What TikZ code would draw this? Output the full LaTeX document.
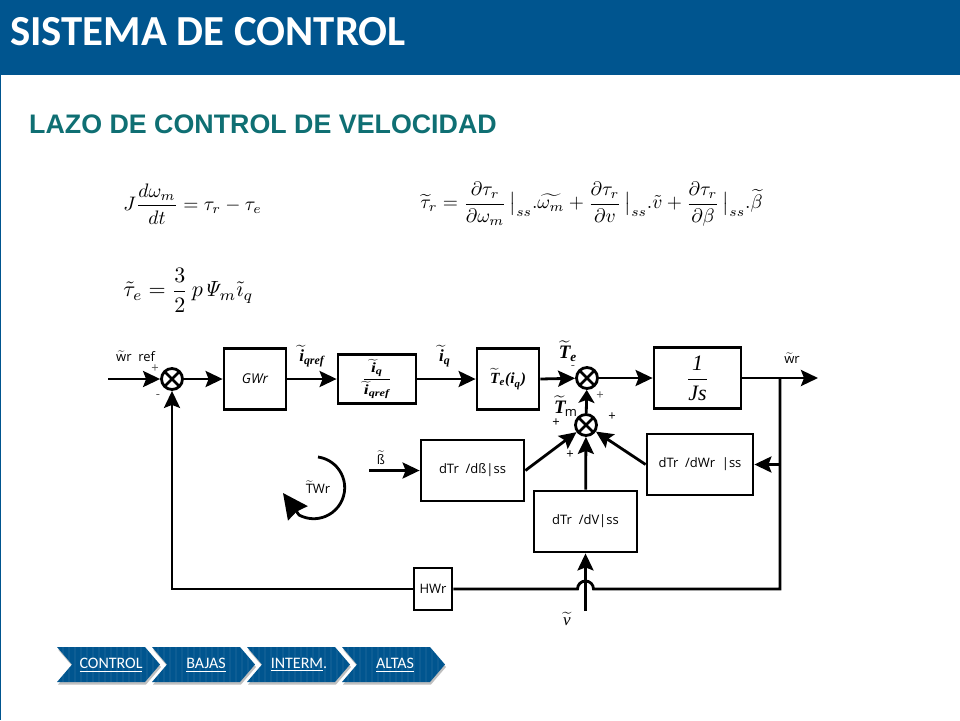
\documentclass[tikz,border=0pt]{standalone}
\usepackage{amsmath}
\usepackage[no-math]{fontspec}
\setmainfont{Open Sans}
\newfontfamily\titlefont{Carlito}
\newfontfamily\headfont{Liberation Sans}
\newfontfamily\blockfont{Liberation Serif}
\usepackage{tikz}
\usetikzlibrary{arrows.meta,shadows}

\definecolor{barblue}{HTML}{00558F}
\definecolor{headteal}{HTML}{0F6F73}
\newcommand{\tildetxt}[1]{$\widetilde{\mbox{#1}}$}
\newcommand{\bi}[1]{\text{\blockfont\bfseries\itshape #1}}
\newcommand{\ti}[1]{\text{\blockfont\itshape #1}}

\tikzset{
  block/.style={draw=black, line width=2.8pt, minimum width=#1, inner sep=0pt},
  summer/.style={circle, draw=black, line width=2.8pt, minimum size=21pt, inner sep=0pt,
    path picture={
      \draw[line width=2.6pt] (path picture bounding box.north west) -- (path picture bounding box.south east);
      \draw[line width=2.6pt] (path picture bounding box.north east) -- (path picture bounding box.south west);}},
  wire/.style={line width=2.8pt},
  sig/.style={wire, -{Stealth[length=17pt,width=16pt,inset=3pt]}},
  lbl/.style={font=\fontsize{13}{15}\selectfont, inner sep=0pt},
  sign/.style={font=\fontsize{13}{15}\selectfont, inner sep=0pt},
  chevron/.style={fill=barblue, drop shadow={shadow xshift=1pt, shadow yshift=-2.5pt, opacity=0.5},
    path picture={
      \foreach \s in {0,6,...,108}{
        \draw[white, opacity=0.05, line width=1.5pt] ([xshift=\s pt]path picture bounding box.north west) -- ([xshift=\s pt]path picture bounding box.south west);}}},
  navlabel/.style={font=\titlefont\fontsize{16}{18}\selectfont, text=white, inner sep=0pt}
}

\begin{document}
\begin{tikzpicture}[x=1pt,y=-1pt]
  \useasboundingbox (0,0) rectangle (960,720);
  \fill[white] (0,0) rectangle (960,720);

  % header
  \fill[barblue] (0,0) rectangle (960,75);
  \fill[barblue] (0,75) rectangle (1,720);
  \node[anchor=west, text=white, inner sep=0pt, font=\titlefont\bfseries\fontsize{42.8}{46}\selectfont] (title) at (10,32) {SISTEMA DE CONTROL};
  \node[anchor=west, text=headteal, inner sep=0pt, font=\headfont\bfseries\fontsize{26.8}{30}\selectfont] (subtitle) at (29,124) {LAZO DE CONTROL DE VELOCIDAD};

  % equations
  \node[scale=1.95, anchor=west, inner sep=0pt] (eqj) at (123,204) {$\displaystyle J\frac{d\omega_m}{dt}=\tau_r-\tau_e$};
  \node[scale=2.2, anchor=west, inner sep=0pt] (eqte) at (123,290) {$\displaystyle \tilde{\tau}_e=\frac{3}{2}\,p\mathit{\Psi}_m\tilde{\imath}_q$};
  \node[scale=1.95, anchor=west, inner sep=0pt] (eqtr) at (420,204) {$\displaystyle \widetilde{\tau}_r=\frac{\partial\tau_r}{\partial\omega_m}\,\big|_{ss}.\widetilde{\omega_m}+\frac{\partial\tau_r}{\partial v}\,\big|_{ss}.\tilde{v}+\frac{\partial\tau_r}{\partial\beta}\,\big|_{ss}.\widetilde{\beta}$};

  % blocks
  \node[summer] (s1) at (172,379) {};
  \node[block=62pt, minimum height=61pt] (gwr) at (255,379) {\fontsize{13.5}{15}\selectfont\itshape GWr};
  \node[block=78pt, minimum height=49pt] (iq) at (377,379) {\scalebox{1.75}[1.4]{$\displaystyle\frac{\widetilde{\bi{i}}_{\bi{q}}}{\widetilde{\bi{i}}_{\bi{qref}}}$}};
  \node[block=62pt, minimum height=61pt] (te) at (508,379) {\scalebox{1.55}{$\widetilde{\bi{T}}_{\bi{e}}\bi{(i}_{\bi{q}}\bi{)}$}};
  \node[summer] (s2) at (587,378) {};
  \node[summer] (s3) at (586,425) {};
  \node[block=87pt, minimum height=61pt] (js) at (697.5,378) {\scalebox{2.2}{$\displaystyle\frac{\ti{1}}{\ti{Js}}$}};
  \node[lbl, block=103pt, minimum height=61pt] (dbeta) at (472.5,470.5) {dTr\ \ /dß|ss};
  \node[lbl, block=103pt, minimum height=61pt] (dv) at (585.5,521.5) {dTr\ \ /dV|ss};
  \node[lbl, block=106pt, minimum height=61pt] (dw) at (700,464.5) {dTr\ \ /dWr\ \ |ss};
  \node[lbl, block=38pt, minimum height=42pt] (hwr) at (433,589) {HWr};

  \coordinate (wrin) at (108,379);
  \coordinate (wrout) at (818,378);
  \coordinate (fbtop) at (780,378);
  \coordinate (fbmid) at (780,464.5);
  \coordinate (fbbot) at (780,589);
  \coordinate (fbleft) at (172,589);
  \coordinate (humpr) at (593.5,589);
  \coordinate (betain) at (369,470.5);
  \coordinate (vin) at (585.5,611);

  % forward path
  \draw[sig] (wrin) -- (s1);
  \draw[sig] (s1) -- (gwr);
  \draw[sig] (gwr) -- (iq);
  \draw[sig] (iq) -- (te);
  \draw[sig] (te.east) -- (s2);
  \draw[sig] (s2) -- (js);
  \draw[sig] (js) -- (wrout);
  \draw[wire, -{Stealth[length=13pt,width=16pt,inset=3pt]}] (s3) -- (s2);

  % inputs of the second summer
  \draw[sig] (betain) -- (dbeta);
  \draw[sig] (dbeta.east) -- (s3);
  \draw[sig] (dv) -- (s3);
  \draw[sig] (dw.west) -- (s3);
  \draw[sig] (fbmid) -- (dw.east);
  \draw[sig] (vin) -- (dv.south);

  % feedback
  \draw[wire] (fbtop) -- (fbbot) -- (humpr) arc (0:-180:8) -- (hwr.east);
  \draw[sig] (hwr.west) -- (fbleft) -- (s1);

  % torque arc
  \draw[wire, -{Stealth[length=25pt,width=24pt,inset=2pt]}] (318,457) arc (-82:118:31) -- (283,493);

  % labels
  \node[lbl, anchor=west] (lwref) at (116,356) {\tildetxt{w}r\ \ ref};
  \node[sign, text=black!65] (lp1) at (155,369) {+};
  \node[sign, text=black!65] (lm1) at (158,397) {-};
  \node[scale=1.7] (liqref) at (312,356) {$\widetilde{\bi{i}}_{\bi{qref}}$};
  \node[scale=1.7] (liq) at (445,356) {$\widetilde{\bi{i}}_{\bi{q}}$};
  \node[scale=1.9] (lte) at (568,351) {$\widetilde{\bi{T}}_{\bi{e}}$};
  \node[scale=1.9] (ltm) at (560,405) {$\widetilde{\bi{T}}$};
  \node[lbl] (ltmb) at (571,413) {m};
  \node[sign, text=black!65] (lm2) at (573,368) {-};
  \node[sign, text=black!65] (lp2) at (600,396) {+};
  \node[sign] (lp3) at (556,423) {+};
  \node[sign] (lp4) at (612,417) {+};
  \node[sign] (lp5) at (570,455) {+};
  \node[lbl] (lbeta) at (381,458) {\tildetxt{ß}};
  \node[lbl] (ltw) at (318,487) {\tildetxt{T}Wr};
  \node[lbl] (lwr) at (792,358) {\tildetxt{w}r};
  \node[scale=1.7] (lv) at (567,619) {$\widetilde{\ti{v}}$};

  % navigation
  \foreach \x/\name/\txt/\cx in {57/control/\underline{CONTROL}/111,152/bajas/\underline{BAJAS}/206,247/interm/\underline{INTERM}./299,342/altas/\underline{ALTAS}/395}{
    \path[chevron] (\x,647) -- ++(88,0) -- ++(15,17.5) -- ++(-15,17.5) -- ++(-88,0) -- ++(15,-17.5) -- cycle;
    \node[navlabel] (\name) at (\cx,665) {\txt};
  }
\end{tikzpicture}
\end{document}
